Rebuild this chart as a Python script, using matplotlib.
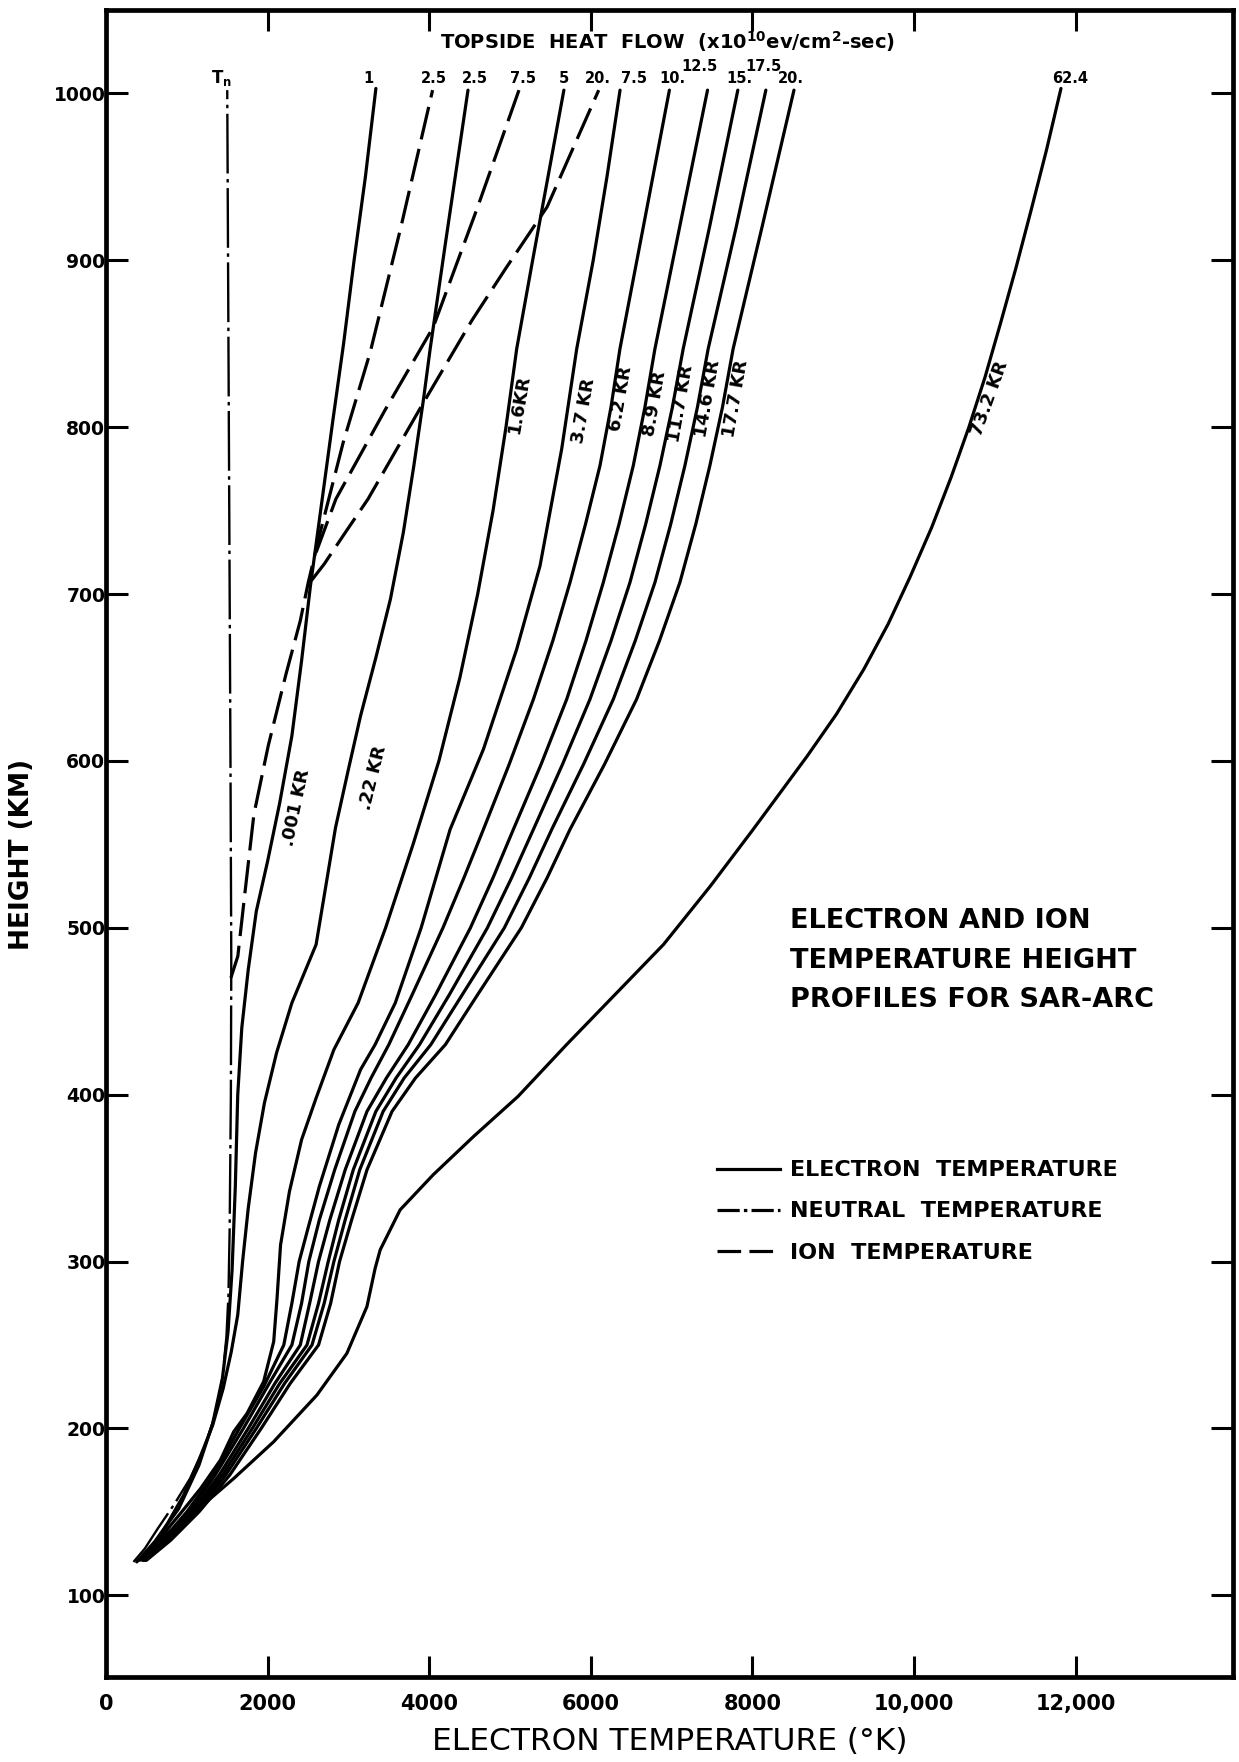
import matplotlib
matplotlib.use('Agg')
import matplotlib.pyplot as plt
from matplotlib.lines import Line2D

plt.rcParams['font.family'] = ['DejaVu Sans']
plt.rcParams['mathtext.default'] = 'bf'
plt.rcParams['lines.scale_dashes'] = False

# --- neutral temperature (K) vs height (km)
tn_T = [340, 480, 640, 850, 1040, 1230, 1360, 1440, 1490, 1515, 1530, 1545, 1550, 1540, 1530, 1520, 1510, 1500]
tn_H = [120, 128, 140, 155, 170, 190, 210, 230, 255, 280, 320, 400, 480, 600, 700, 800, 900, 1002]

# --- electron temperature profiles, labelled by SAR-arc intensity
te_001_T = [380, 600, 900, 1150, 1320, 1440, 1510, 1560, 1600, 1630, 1680, 1760, 1860, 2000, 2150, 2300, 2420, 2530, 2670, 2810, 2940, 3070, 3210, 3340]
te_001_H = [120, 132, 152, 178, 203, 230, 258, 295, 345, 400, 440, 475, 510, 540, 575, 615, 660, 705, 755, 805, 850, 900, 950, 1003]

te_022_T = [420, 560, 760, 960, 1150, 1320, 1450, 1550, 1630, 1690, 1760, 1850, 1960, 2110, 2300, 2600, 2720, 2840, 3000, 3150, 3340, 3520, 3680, 3810, 3930, 4012, 4200, 4480]
te_022_H = [121, 128, 143, 160, 181, 202, 224, 246, 268, 300, 332, 365, 395, 425, 455, 490, 525, 560, 595, 627, 662, 697, 737, 777, 817, 847, 910, 1002]

te_16_T = [420, 630, 920, 1170, 1415, 1580, 1745, 1950, 2075, 2115, 2160, 2270, 2420, 2600, 2820, 3120, 3460, 3800, 4120, 4380, 4600, 4790, 4950, 5083, 5280, 5470, 5667]
te_16_H = [122, 132, 149, 164, 181, 198, 209, 228, 252, 277, 310, 342, 373, 398, 427, 455, 500, 550, 600, 650, 700, 750, 800, 847, 900, 950, 1002]

te_37_T = [450, 700, 1000, 1300, 1650, 1950, 2200, 2300, 2390, 2500, 2640, 2880, 3150, 3330, 3580, 3900, 4259, 4671, 5083, 5372, 5640, 5826, 6030, 6200, 6362]
te_37_H = [121, 133, 150, 170, 200, 225, 250, 275, 300, 320, 345, 382, 415, 430, 455, 500, 559, 607, 667, 717, 787, 847, 900, 950, 1002]

# the five brighter mid-group arcs share one height grid
grp_H = [121, 133, 150, 172, 200, 227, 250, 275, 300, 325, 355, 390, 410, 430, 460, 500, 530, 559, 598, 637, 672, 707, 742, 777, 812, 847, 920, 1002]
te_62_T = [460, 720, 1030, 1350, 1700, 2020, 2300, 2420, 2510, 2640, 2830, 3080, 3280, 3500, 3790, 4170, 4430, 4671, 4990, 5290, 5530, 5743, 5935, 6114, 6250, 6361, 6650, 6973]
te_89_T = [470, 740, 1060, 1400, 1760, 2090, 2404, 2520, 2630, 2770, 2960, 3230, 3470, 3740, 4080, 4510, 4790, 5042, 5385, 5702, 5940, 6155, 6350, 6526, 6670, 6794, 7100, 7445]
te_117_T = [480, 760, 1090, 1440, 1810, 2150, 2487, 2630, 2750, 2880, 3060, 3340, 3590, 3880, 4250, 4720, 5020, 5290, 5650, 5990, 6250, 6485, 6680, 6856, 7010, 7144, 7470, 7820]
te_146_T = [490, 780, 1120, 1480, 1860, 2210, 2549, 2700, 2820, 2960, 3140, 3430, 3690, 4020, 4410, 4930, 5240, 5517, 5910, 6279, 6550, 6794, 6990, 7165, 7320, 7453, 7800, 8167]
te_177_T = [500, 800, 1150, 1530, 1920, 2280, 2630, 2780, 2890, 3040, 3230, 3540, 3830, 4200, 4600, 5140, 5460, 5743, 6170, 6567, 6850, 7103, 7300, 7474, 7630, 7762, 8120, 8515]

te_732_T = [450, 700, 1100, 1580, 2074, 2610, 2981, 3229, 3331, 3393, 3640, 4049, 4550, 5100, 5700, 6300, 6900, 7480, 8010, 8330, 8680, 9040, 9380, 9680, 9950, 10220, 10460, 10680, 10880, 11070, 11260, 11450, 11640, 11820]
te_732_H = [123, 135, 150, 170, 192, 220, 245, 273, 296, 307, 331, 352, 375, 399, 430, 460, 490, 525, 559, 580, 603, 628, 655, 682, 710, 740, 770, 800, 830, 862, 895, 930, 966, 1003]

# --- ion temperature profiles (labelled by topside heat flow)
ti_25_T = [1545, 1631, 1719, 1830, 2007, 2227, 2404, 2503, 2651, 2936, 3270, 3650, 4042]
ti_25_H = [470, 483, 521, 568, 609, 652, 684, 707, 737, 791, 845, 920, 1002]
ti_75_T = [2600, 2845, 3450, 4050, 4600, 5111]
ti_75_H = [725, 757, 810, 860, 932, 1002]
ti_20_T = [2540, 2700, 2935, 3243, 3920, 4528, 4945, 5459, 6098]
ti_20_H = [708, 718, 735, 757, 814, 864, 895, 932, 1002]

# curve annotations: text, temperature, height, angle
kr_labels = ['.001 KR', '.22 KR', '1.6KR', '3.7 KR', '6.2 KR', '8.9 KR', '11.7 KR', '14.6 KR', '17.7 KR', '73.2 KR']
kr_T = [2350, 3300, 5111, 5917, 6376, 6792, 7112, 7445, 7792, 10940]
kr_H = [572, 590, 814, 810, 817, 814, 814, 817, 817, 817]
kr_rot = [78, 76, 80, 80, 80, 80, 80, 80, 80, 70]

# topside heat flow values written above the curve tops
flux_labels = ['1', '2.5', '2.5', '7.5', '5', '20.', '7.5', '10.', '12.5', '15.', '17.5', '20.', '62.4']
flux_T = [3250, 4056, 4570, 5167, 5667, 6090, 6530, 7014, 7348, 7834, 8140, 8473, 11931]
flux_H = [1009, 1009, 1009, 1009, 1009, 1009, 1009, 1009, 1016, 1009, 1016, 1009, 1009]

x_ticks = [0, 2000, 4000, 6000, 8000, 10000, 12000]
x_ticklabels = ['0', '2000', '4000', '6000', '8000', '10,000', '12,000']
y_ticks = [100, 200, 300, 400, 500, 600, 700, 800, 900, 1000]

fig = plt.figure(figsize=(12.39, 17.62), dpi=100)
ax = fig.add_axes([0.0856, 0.0482, 0.9096, 0.9461])

lw = 2.3
ion_dash = (24, 7)
neutral_dash = (43, 4, 2.5, 4)

electron = [(te_001_T, te_001_H), (te_022_T, te_022_H), (te_16_T, te_16_H),
            (te_37_T, te_37_H), (te_62_T, grp_H), (te_89_T, grp_H),
            (te_117_T, grp_H), (te_146_T, grp_H), (te_177_T, grp_H),
            (te_732_T, te_732_H)]
for T, H in electron:
    ax.plot(T, H, color='black', lw=lw, solid_capstyle='round', solid_joinstyle='round')

ax.plot(tn_T, tn_H, color='black', lw=lw - 0.6, dashes=neutral_dash)
for T, H in [(ti_25_T, ti_25_H), (ti_75_T, ti_75_H), (ti_20_T, ti_20_H)]:
    ax.plot(T, H, color='black', lw=lw, dashes=ion_dash)

for s, t, h, r in zip(kr_labels, kr_T, kr_H, kr_rot):
    ax.text(t, h, s, rotation=r, rotation_mode='anchor', ha='center', va='center',
            fontsize=13, fontweight='bold')

for s, t, h in zip(flux_labels, flux_T, flux_H):
    ax.text(t, h, s, ha='center', va='center', fontsize=10.5, fontweight='bold')
ax.text(1430, 1009, r'T$_{\mathbf{n}}$', ha='center', va='center', fontsize=12, fontweight='bold')

ax.text(6945, 1031, r'TOPSIDE  HEAT  FLOW  (x10$^{\mathbf{10}}$ev/cm$^{\mathbf{2}}$-sec)',
        ha='center', va='center', fontsize=14, fontweight='bold')

ax.text(0.607, 0.4613, 'ELECTRON AND ION\nTEMPERATURE HEIGHT\nPROFILES FOR SAR-ARC',
        transform=ax.transAxes, ha='left', va='top', fontsize=19.5, fontweight='bold',
        linespacing=1.68)

handles = [Line2D([], [], color='black', lw=lw),
           Line2D([], [], color='black', lw=lw, dashes=(16, 3, 2.5, 3)),
           Line2D([], [], color='black', lw=lw, dashes=(17, 6))]
ax.legend(handles, ['ELECTRON  TEMPERATURE', 'NEUTRAL  TEMPERATURE', 'ION  TEMPERATURE'],
          loc='upper left', bbox_to_anchor=(0.542, 0.310), frameon=False,
          borderpad=0, borderaxespad=0, handlelength=2.85, handletextpad=0.45,
          labelspacing=0.95, prop={'weight': 'bold', 'size': 16})

ax.set_xlim(0, 13950)
ax.set_ylim(51, 1050)
ax.set_xticks(x_ticks)
ax.set_xticklabels(x_ticklabels)
ax.set_yticks(y_ticks)
ax.tick_params(axis='both', direction='in', top=True, right=True, width=2.2)
ax.tick_params(axis='x', length=15, pad=12, labelsize=15)
ax.tick_params(axis='y', length=16, pad=0.5, labelsize=13.5)
for lab in ax.get_xticklabels() + ax.get_yticklabels():
    lab.set_fontweight('bold')
for sp in ax.spines.values():
    sp.set_linewidth(3.4)

ax.set_xlabel('ELECTRON TEMPERATURE (°K)', fontsize=22.5, va='center')
ax.xaxis.set_label_coords(0.5, -0.0384)
ax.set_ylabel('HEIGHT (KM)', fontsize=19, fontweight='bold', va='center')
ax.yaxis.set_label_coords(-0.0745, 0.4935)

fig.savefig('out.png', dpi=100)
